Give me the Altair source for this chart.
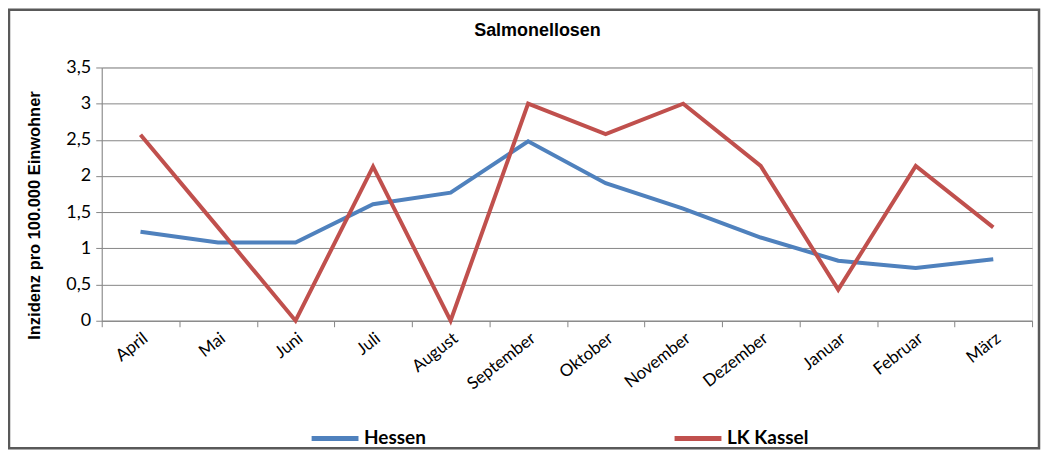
import altair as alt
import pandas as pd

months = ["April", "Mai", "Juni", "Juli", "August", "September", "Oktober",
          "November", "Dezember", "Januar", "Februar", "März"]
hessen = [1.23, 1.08, 1.08, 1.61, 1.77, 2.48, 1.90, 1.55, 1.15, 0.83, 0.73, 0.85]
kassel = [2.57, 1.29, 0.0, 2.13, 0.0, 3.0, 2.58, 3.0, 2.14, 0.43, 2.14, 1.29]
series = ["Hessen", "LK Kassel"]
colors = ["#4F81BD", "#C0504D"]
y_ticks = [0, 0.5, 1, 1.5, 2, 2.5, 3, 3.5]
title_text = "Salmonellosen"

rows = []
for i, m in enumerate(months):
    rows.append({"Monat": m, "Serie": series[0], "Wert": hessen[i], "o": i})
    rows.append({"Monat": m, "Serie": series[1], "Wert": kassel[i], "o": i})
df = pd.DataFrame(rows)

FONT = "Lato"

lines = alt.Chart(df).mark_line(strokeWidth=4).encode(
    x=alt.X("Monat:N", sort=months, bandPosition=0.5,
            scale=alt.Scale(type="band", paddingInner=0, paddingOuter=0),
            axis=alt.Axis(title=None, labelAngle=-38, labelFontSize=17, labelFont=FONT,
                          labelColor="#000000", tickBand="extent", tickSize=6,
                          tickColor="#868686", domainColor="#868686", grid=False,
                          labelPadding=3)),
    y=alt.Y("Wert:Q", scale=alt.Scale(domain=[0, 3.5], nice=False),
            axis=alt.Axis(title="Inzidenz pro 100.000 Einwohner", values=y_ticks,
                          labelExpr="replace(toString(datum.value), '.', ',')",
                          labelFontSize=18, labelFont=FONT, labelColor="#000000",
                          titleFontSize=16.5, titleFont="Liberation Sans", titleFontWeight="bold",
                          titleColor="#000000",
                          titleAngle=-90, titleX=-67, titleY=148, titleAlign="center",
                          titleBaseline="middle", tickSize=6, tickColor="#868686",
                          domainColor="#868686", gridColor="#868686", labelPadding=5)),
    color=alt.Color("Serie:N", scale=alt.Scale(domain=series, range=colors),
                    legend=alt.Legend(title=None, orient="none", direction="horizontal",
                                      legendX=208, legendY=346, symbolType="stroke",
                                      symbolSize=2209, symbolStrokeWidth=5,
                                      labelFont=FONT, labelFontSize=19, labelFontWeight="bold",
                                      labelColor="#000000", columnPadding=238, labelOffset=3)),
    order="o:Q",
)

border = alt.Chart(pd.DataFrame({"a": [0]})).mark_rect(
    fill=None, stroke="#595959", strokeWidth=2.5
).encode(x=alt.value(-93), x2=alt.value(940), y=alt.value(-58), y2=alt.value(382))

title = alt.Chart(pd.DataFrame({"t": [title_text]})).mark_text(
    font="Liberation Sans", fontSize=18, fontWeight="bold", color="#000000",
    align="center", baseline="middle"
).encode(text="t:N", x=alt.value(437), y=alt.value(-37))

chart = alt.layer(border, title, lines).properties(
    width=933, height=254,
    autosize=alt.AutoSizeParams(type="none"),
    padding={"left": 94, "top": 59, "right": 12, "bottom": 132},
).configure_view(stroke=None).configure(background="white")

chart.save("out.html", embed_options={"renderer": "svg", "actions": False})
